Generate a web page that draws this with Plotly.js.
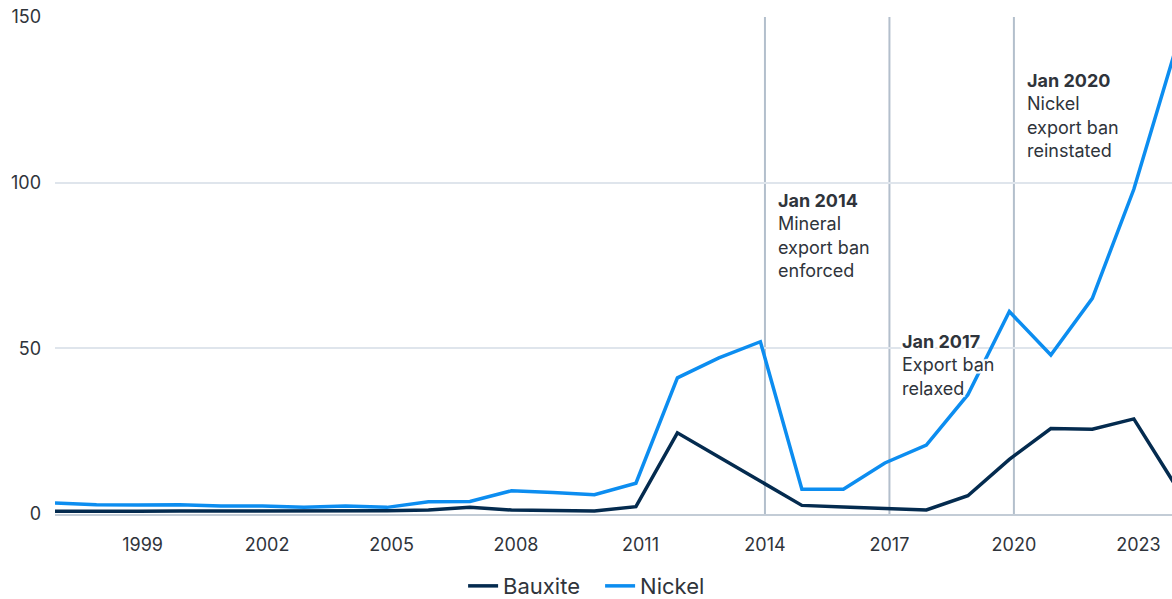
<!DOCTYPE html>
<html>
<head>
<meta charset="utf-8">
<script src="https://cdn.plot.ly/plotly-3.0.1.min.js"></script>
<style>
  html, body { margin: 0; padding: 0; background: #ffffff; }
  #chart { width: 1172px; height: 599px; }
</style>
</head>
<body>
<div id="chart"></div>
<script>
const years = [1997, 1998, 1999, 2000, 2001, 2002, 2003, 2004, 2005, 2006, 2007, 2008, 2009, 2010,
               2011, 2012, 2013, 2014, 2015, 2016, 2017, 2018, 2019, 2020, 2021, 2022, 2023, 2024];
const bauxite = [0.8, 0.7, 0.8, 0.9, 0.9, 1.0, 0.9, 1.0, 1.0, 1.2, 2.0, 1.2, 1.1, 0.9,
                 2.2, 24.5, 17.2, 9.9, 2.6, 2.1, 1.6, 1.2, 5.5, 16.5, 25.8, 25.6, 28.7, 8.7];
const nickel = [3.3, 2.8, 2.7, 2.8, 2.4, 2.4, 2.0, 2.4, 2.0, 3.7, 3.8, 7.0, 6.5, 5.8,
                9.3, 41.1, 47.1, 52.0, 7.5, 7.5, 15.4, 20.8, 36.0, 61.1, 48.0, 65.1, 98.0, 140.0];

const tickYears = [1999, 2002, 2005, 2008, 2011, 2014, 2017, 2020, 2023];
const tickLabels = ["1999", "2002", "2005", "2008", "2011", "2014", "2017", "2020", "2023"];

const eventYears = [2014, 2017, 2020];
const eventTitles = ["Jan 2014", "Jan 2017", "Jan 2020"];
const eventTexts = [["Mineral", "export ban", "enforced"],
                    ["Export ban", "relaxed"],
                    ["Nickel", "export ban", "reinstated"]];
const eventLabelY = [84.0, 45.0, 120.2];

const off = 0.11; // ticks / events sit slightly right of annual points
const textColor = "#2f343b";
const halo = "white 2px 0px 1px, white -2px 0px 1px, white 0px 2px 1px, white 0px -2px 1px, white 2px 2px 1px, white -2px -2px 1px, white 2px -2px 1px, white -2px 2px 1px";

const traces = [
  { x: years, y: bauxite, name: "Bauxite", type: "scatter", mode: "lines",
    line: { color: "#042b4f", width: 3.5 }, hoverinfo: "skip" },
  { x: years, y: nickel, name: "Nickel", type: "scatter", mode: "lines",
    line: { color: "#0c8df0", width: 3.5 }, hoverinfo: "skip" }
];

const shapes = eventYears.map(yr => ({
  type: "line", xref: "x", yref: "paper", x0: yr + off, x1: yr + off, y0: 0, y1: 1,
  line: { color: "#b3bfcc", width: 2 }, layer: "below"
}));

const annotations = eventYears.map((yr, i) => ({
  xref: "x", yref: "y", x: yr + off, y: eventLabelY[i], xanchor: "left", yanchor: "middle",
  xshift: 11, align: "left", showarrow: false,
  text: "<b>" + eventTitles[i] + "</b><br>" + eventTexts[i].join("<br>"),
  font: { family: "Inter, 'Noto Sans', sans-serif", size: 18, color: textColor, shadow: halo }
}));

const layout = {
  width: 1172, height: 599,
  margin: { l: 55, r: 0, t: 17, b: 85, autoexpand: false },
  paper_bgcolor: "#ffffff", plot_bgcolor: "#ffffff",
  font: { family: "Inter, 'Noto Sans', sans-serif", size: 18, color: textColor },
  showlegend: true,
  legend: { orientation: "h", x: 0.488, xanchor: "center", y: -0.145, yanchor: "middle",
            font: { size: 22, color: textColor }, itemwidth: 30, traceorder: "normal",
            entrywidth: 92, entrywidthmode: "pixels" },
  xaxis: {
    range: [1997, 2023.92], tickvals: tickYears.map(v => v + off), ticktext: tickLabels,
    showgrid: false, zeroline: false, showline: true, linecolor: "#c3ccd6", linewidth: 2,
    ticks: "", ticklabelstandoff: 13, fixedrange: true,
    tickfont: { size: 18, color: textColor }
  },
  yaxis: {
    range: [0, 150], tickvals: [0, 50, 100, 150], ticktext: ["0", "50", "100", "150"],
    showgrid: true, gridcolor: "#dfe5ec", gridwidth: 2, zeroline: false,
    ticks: "", ticklabelstandoff: 13, fixedrange: true,
    tickfont: { size: 18, color: textColor }
  },
  shapes: shapes,
  annotations: annotations
};

Plotly.newPlot("chart", traces, layout, { displayModeBar: false, staticPlot: true });
</script>
</body>
</html>
